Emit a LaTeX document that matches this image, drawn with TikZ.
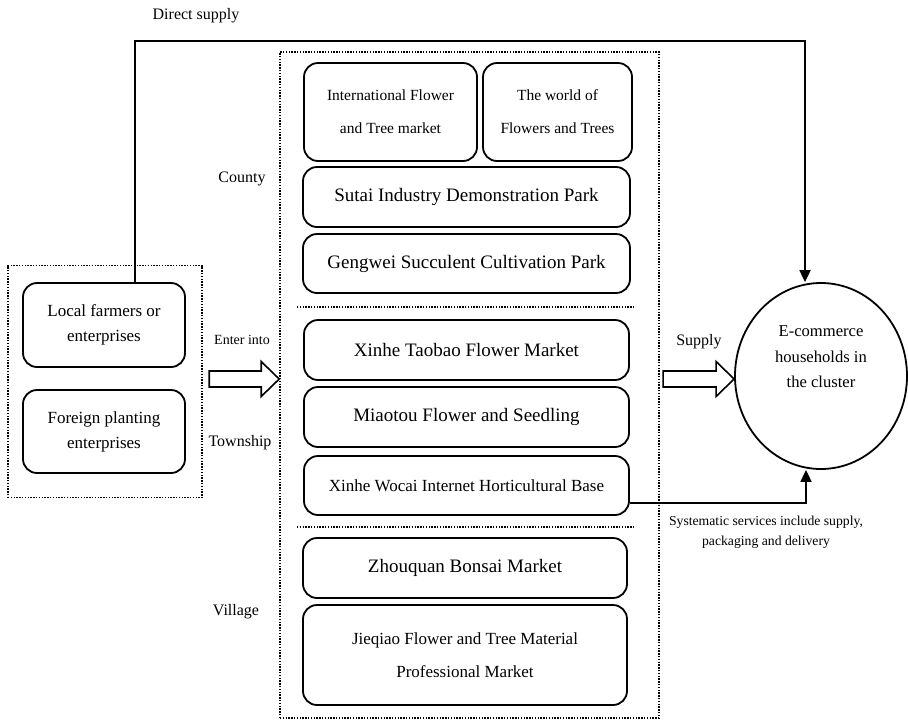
\documentclass[tikz,border=0pt]{standalone}
\usepackage{fontspec}
\setmainfont{Liberation Serif}
\usetikzlibrary{arrows.meta,shapes.geometric,calc}
\begin{document}
\begin{tikzpicture}[x=1pt,y=-1pt,
  box/.style={draw, line width=1.8pt, rounded corners=14pt, align=center, inner sep=0pt},
  grp/.style={draw, line width=1.6pt, dash pattern=on 1.4pt off 1.4pt},
  conn/.style={line width=1.8pt, -{Triangle[length=12pt,width=11pt]}},
  hollow/.style={draw, line width=1.6pt, fill=white, line join=miter},
  lbl/.style={inner sep=0pt, align=center},
  big/.style={font={\fontsize{19}{25}\selectfont}},
  mid/.style={font={\fontsize{17}{25}\selectfont}},
  tag/.style={font={\fontsize{16}{20}\selectfont}}
]
\useasboundingbox (0,0) rectangle (908,721);

% groups
\node[grp, minimum width=194pt, minimum height=232pt, inner sep=0pt] (leftgrp) at (105,381.5) {};
\node[grp, minimum width=379pt, minimum height=666pt, inner sep=0pt] (midgrp) at (469.5,385) {};
\coordinate (s1a) at (297,307); \coordinate (s1b) at (634,307);
\coordinate (s2a) at (297,527); \coordinate (s2b) at (634,527);
\draw[grp] (s1a) -- (s1b);
\draw[grp] (s2a) -- (s2b);

% left boxes
\node[box, mid, minimum width=162pt, minimum height=84pt] (local) at (104,325) {Local farmers or\\enterprises};
\node[box, mid, minimum width=162pt, minimum height=83pt] (foreign) at (104,431.5) {Foreign planting\\enterprises};

% county
\node[box, font={\fontsize{15.5}{33}\selectfont}, minimum width=173pt, minimum height=98pt] (intl) at (390.5,112) {International Flower\\and Tree market};
\node[box, font={\fontsize{15.5}{33}\selectfont}, minimum width=149pt, minimum height=98pt] (world) at (557.5,112) {The world of\\Flowers and Trees};
\node[box, big, minimum width=327pt, minimum height=60pt] (sutai) at (466.5,197) {Sutai Industry Demonstration Park};
\node[box, big, minimum width=327pt, minimum height=59pt] (gengwei) at (466.5,263.5) {Gengwei Succulent Cultivation Park};

% township
\node[box, big, minimum width=325pt, minimum height=60pt] (taobao) at (466.5,350) {Xinhe Taobao Flower Market};
\node[box, big, minimum width=325pt, minimum height=60pt] (miaotou) at (466.5,417) {Miaotou Flower and Seedling};
\node[box, mid, minimum width=325pt, minimum height=59pt] (wocai) at (466.5,485.5) {Xinhe Wocai Internet Horticultural Base};

% village
\node[box, big, minimum width=324pt, minimum height=60pt] (zhou) at (465,568) {Zhouquan Bonsai Market};
\node[box, font={\fontsize{17}{33}\selectfont}, minimum width=324pt, minimum height=100pt] (jie) at (465,655) {Jieqiao Flower and Tree Material\\Professional Market};

% circle
\node[draw, ellipse, line width=1.8pt, minimum width=172pt, minimum height=186pt, inner sep=0pt] (circ) at (821,376) {};
\node[lbl, font={\fontsize{16.6}{25.5}\selectfont}] (ectext) at (821,357) {E-commerce\\households in\\the cluster};

% labels
\node[lbl, tag] (dslbl) at (196,16) {Direct supply};
\node[lbl, tag] (county) at (242,179) {County};
\node[lbl, font={\fontsize{14}{18}\selectfont}] (enter) at (242,340) {Enter into};
\node[lbl, tag] (town) at (240,443) {Township};
\node[lbl, tag] (village) at (236,612) {Village};
\node[lbl, tag] (supply) at (699,342) {Supply};
\node[lbl, font={\fontsize{13.7}{20}\selectfont}] (syst) at (766,532) {Systematic services include supply,\\packaging and delivery};

% direct supply connector
\coordinate (dsc) at (805,41);
\draw[conn] ([xshift=31pt]local.north) |- (dsc) -- (dsc |- circ.north);

% systematic services connector
\coordinate (ssc) at (806,503);
\draw[conn] ([yshift=-17.5pt]wocai.east) -- (ssc) -- (ssc |- circ.south);

% hollow arrows
\coordinate (ea) at (midgrp.west |- 0,379);
\draw[hollow] ($(ea)+(-70,-8)$) -- ($(ea)+(-18,-8)$) -- ($(ea)+(-18,-17.5)$) -- (ea)
  -- ($(ea)+(-18,17.5)$) -- ($(ea)+(-18,8)$) -- ($(ea)+(-70,8)$) -- cycle;
\coordinate (sa) at (circ.west |- 0,379);
\draw[hollow] ($(sa)+(-71,-8)$) -- ($(sa)+(-18,-8)$) -- ($(sa)+(-18,-17.5)$) -- (sa)
  -- ($(sa)+(-18,17.5)$) -- ($(sa)+(-18,8)$) -- ($(sa)+(-71,8)$) -- cycle;
\end{tikzpicture}
\end{document}
